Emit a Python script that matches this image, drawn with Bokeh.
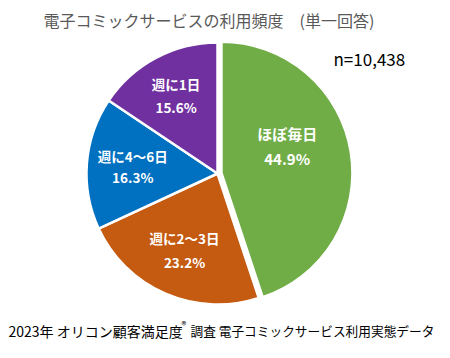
import math
from bokeh.plotting import figure
from bokeh.models import ColumnDataSource, Range1d
from bokeh.core.properties import value
from bokeh.embed import file_html
from bokeh.resources import INLINE

# ---- data ----
categories = ["ほぼ毎日", "週に2～3日", "週に4～6日", "週に1日"]
shares = [44.9, 23.2, 16.3, 15.6]
pct_labels = ["44.9%", "23.2%", "16.3%", "15.6%"]
title_text = "電子コミックサービスの利用頻度　(単一回答)"
n_text = "n=10,438"
footer_a = "2023年 オリコン顧客満足度"
footer_b = "調査 電子コミックサービス利用実態データ"

# ---- styles / layout ----
colors = ["#70AD47", "#C55A11", "#0070C0", "#7030A0"]
explode = [4.0, 0.0, 0.0, 0.0]
label_r = [75, 83, 85, 88]
label_angle_shift = [-12.6, 0.0, 0.0, 0.0]
label_size = ["15px", "13.5px", "13.5px", "13.5px"]
label_gap = [12.5, 12, 10.5, 11.5]
W, H = 434, 342
font = "Noto Sans CJK JP"


def fy(page_y):
    return H - page_y


cx, cy, R = 217, fy(173), 131

total = sum(shares)
starts, ends, xs, ys = [], [], [], []
name_x, name_y, pct_x, pct_y = [], [], [], []
cum = 0.0
for i, s in enumerate(shares):
    a0 = math.pi / 2 - 2 * math.pi * cum / total
    cum += s
    a1 = math.pi / 2 - 2 * math.pi * cum / total
    mid = (a0 + a1) / 2
    starts.append(a0)
    ends.append(a1)
    xs.append(cx + explode[i] * math.cos(mid))
    ys.append(cy + explode[i] * math.sin(mid))
    la = mid - math.radians(label_angle_shift[i])
    lx = cx + label_r[i] * math.cos(la)
    ly = cy + label_r[i] * math.sin(la)
    name_x.append(lx)
    name_y.append(ly + label_gap[i])
    pct_x.append(lx)
    pct_y.append(ly - label_gap[i])

src = ColumnDataSource(dict(x=xs, y=ys, start=starts, end=ends, color=colors,
                            nx=name_x, ny=name_y, px=pct_x, py=pct_y,
                            name=categories, pct=pct_labels, size=label_size))

p = figure(width=W, height=H, output_backend="svg", toolbar_location=None,
           x_range=Range1d(0, W), y_range=Range1d(0, H), min_border=0)
p.axis.visible = False
p.grid.visible = False
p.outline_line_color = None
p.background_fill_color = "white"
p.border_fill_color = "white"

p.wedge(x="x", y="y", radius=R, start_angle="start", end_angle="end",
        direction="clock", fill_color="color", line_color="white",
        line_width=2.5, source=src)

p.text(x="nx", y="ny", text="name", source=src, text_color="white",
       text_font=value(font), text_font_style="bold", text_font_size="size",
       text_align="center", text_baseline="middle")
p.text(x="px", y="py", text="pct", source=src, text_color="white",
       text_font=value(font), text_font_style="bold", text_font_size="size",
       text_align="center", text_baseline="middle")

# title
p.text(x=[43], y=[fy(19)], text=[title_text], text_color="#595959",
       text_font=value(font), text_font_size="16px",
       text_align="left", text_baseline="middle")
# n
p.text(x=[333], y=[fy(58)], text=[n_text], text_color="#000000",
       text_font=value(font), text_font_size="17px",
       text_align="left", text_baseline="middle")
# footer
p.text(x=[8], y=[fy(330)], text=[footer_a], text_color="#000000",
       text_font=value(font), text_font_size="14px",
       text_align="left", text_baseline="middle")
p.text(x=[181], y=[fy(324)], text=["®"], text_color="#000000",
       text_font=value(font), text_font_size="10px",
       text_align="left", text_baseline="middle")
p.text(x=[190], y=[fy(330)], text=[footer_b], text_color="#000000",
       text_font=value(font), text_font_size="12.7px",
       text_align="left", text_baseline="middle")

open("out.html", "w").write(file_html(p, INLINE))
